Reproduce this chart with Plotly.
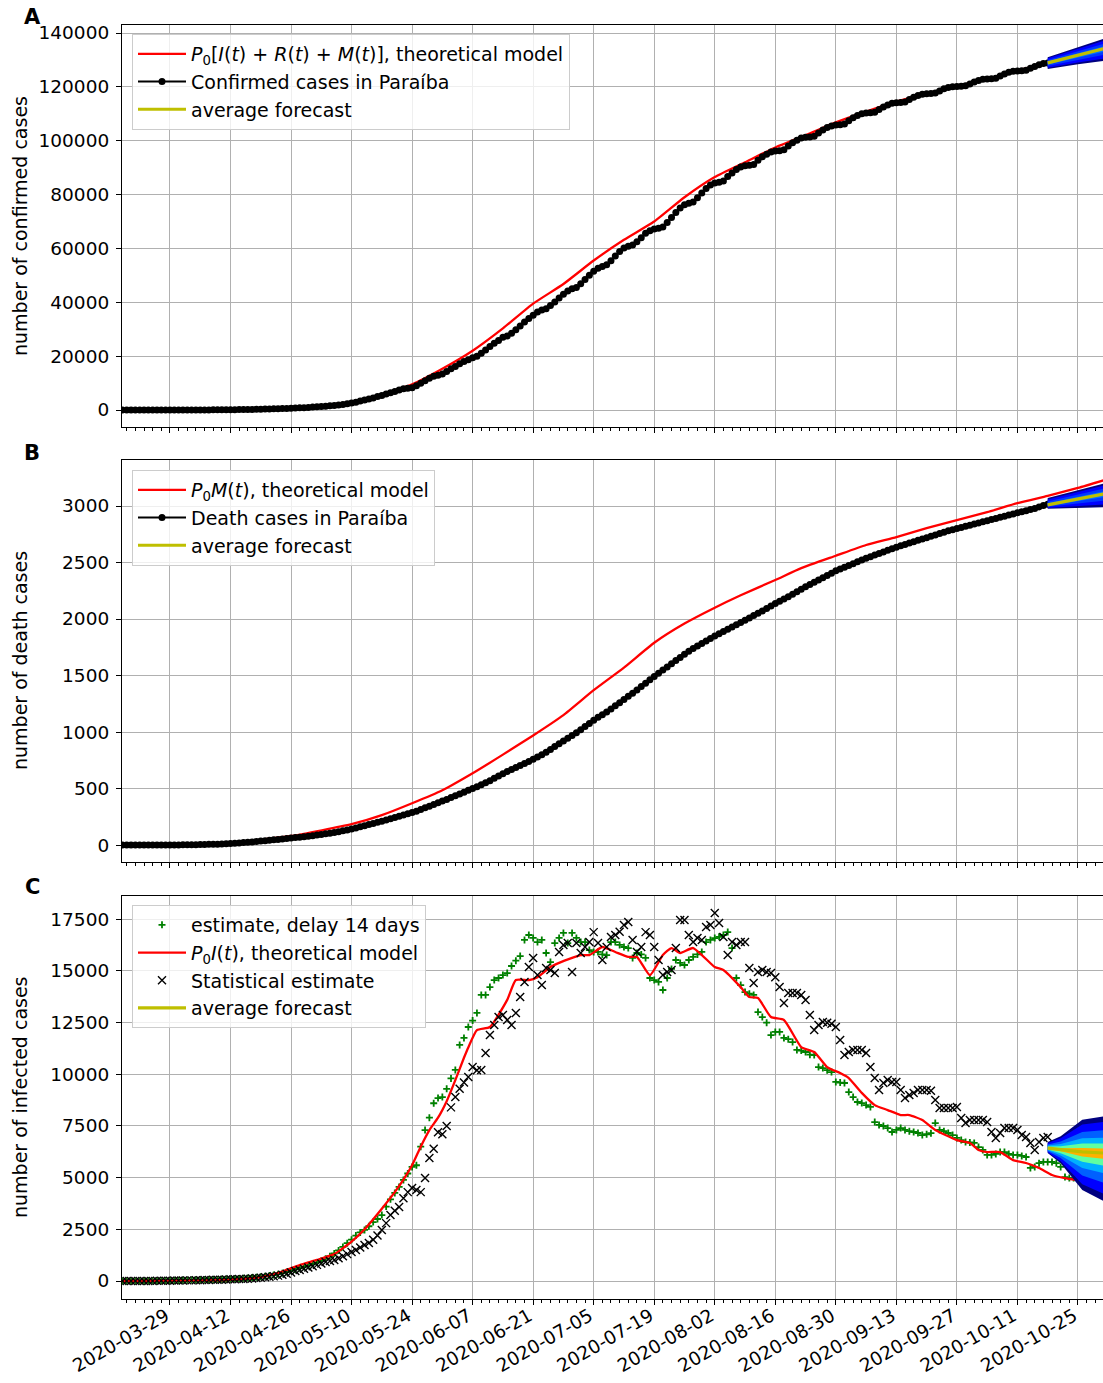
import numpy as np
import pandas as pd
import plotly.graph_objects as go

# ---------------- data ----------------
START = "2020-03-18"   # day 0 of every daily series

# Panel A: cumulative confirmed cases in Paraíba (daily, day 0 .. 214)
confirmed = [
    1, 1, 1, 2, 3, 3, 5,
    6, 7, 9, 10, 12, 14, 14,
    16, 18, 20, 25, 30, 35, 40,
    50, 60, 75, 90, 105, 125, 150,
    175, 200, 230, 260, 300, 340, 380,
    420, 470, 530, 590, 650, 720, 800,
    880, 970, 1070, 1180, 1300, 1430, 1560,
    1700, 1850, 2050, 2300, 2600, 2900, 3300,
    3700, 4100, 4500, 5000, 5400, 5900, 6400,
    6900, 7400, 7900, 8100, 8300, 9000, 9900,
    10900, 11800, 12500, 12900, 13400, 14300, 15300,
    16200, 17200, 18000, 18700, 19400, 20000, 21100,
    22300, 23600, 24800, 25800, 27000, 27500, 28500,
    29800, 31200, 32700, 34000, 35200, 36400, 37100,
    37600, 38800, 40100, 41600, 43000, 44200, 45000,
    45500, 46900, 48500, 50000, 51500, 52600, 53300,
    53900, 55400, 57200, 58900, 60200, 60800, 61300,
    62500, 64000, 65600, 66600, 67200, 67500, 68000,
    69600, 71500, 73300, 75000, 76200, 76800, 77200,
    78800, 80600, 82300, 83600, 84300, 84600, 85000,
    86700, 88000, 89300, 90200, 90700, 90900, 91200,
    92700, 94000, 95000, 95800, 96200, 96300, 96600,
    98000, 99200, 100200, 101000, 101300, 101400, 101700,
    102900, 104000, 104900, 105500, 105800, 105900, 106200,
    107400, 108500, 109400, 110000, 110300, 110400, 110600,
    111600, 112500, 113300, 113900, 114100, 114200, 114400,
    115300, 116100, 116800, 117300, 117400, 117500, 117700,
    118500, 119300, 119800, 120000, 120100, 120200, 120400,
    121100, 121800, 122400, 122800, 122900, 123000, 123200,
    124000, 124800, 125400, 125800, 125900, 126000, 126200,
    126900, 127600, 128200, 128700, 128900,
]

# Panel B: cumulative deaths in Paraíba (daily, day 0 .. 214)
deaths = [
    0, 0, 0, 0, 0, 0, 0,
    0, 0, 1, 1, 1, 1, 1,
    2, 2, 3, 3, 4, 5, 6,
    7, 8, 10, 12, 14, 16, 19,
    22, 25, 28, 31, 35, 38, 42,
    46, 50, 54, 58, 62, 66, 70,
    74, 78, 83, 88, 93, 99, 105,
    111, 118, 126, 134, 142, 151, 161,
    171, 181, 191, 201, 211, 222, 233,
    244, 255, 266, 277, 288, 300, 314,
    329, 344, 359, 374, 389, 404, 420,
    436, 452, 468, 484, 500, 516, 533,
    551, 570, 590, 610, 630, 650, 668,
    686, 704, 722, 740, 760, 780, 800,
    822, 846, 871, 896, 921, 946, 970,
    994, 1020, 1048, 1076, 1104, 1130, 1154,
    1178, 1204, 1232, 1260, 1288, 1316, 1344,
    1372, 1402, 1432, 1462, 1492, 1520, 1548,
    1576, 1604, 1632, 1660, 1688, 1714, 1740,
    1762, 1784, 1806, 1828, 1850, 1870, 1890,
    1910, 1930, 1950, 1970, 1990, 2010, 2030,
    2050, 2072, 2094, 2116, 2138, 2158, 2178,
    2198, 2220, 2242, 2264, 2286, 2306, 2326,
    2346, 2366, 2386, 2406, 2426, 2442, 2458,
    2474, 2490, 2506, 2522, 2538, 2552, 2566,
    2580, 2594, 2608, 2622, 2636, 2648, 2660,
    2672, 2684, 2696, 2708, 2720, 2732, 2744,
    2756, 2768, 2780, 2790, 2800, 2810, 2820,
    2830, 2840, 2850, 2860, 2870, 2880, 2890,
    2900, 2910, 2920, 2930, 2940, 2950, 2958,
    2968, 2978, 2992, 3005, 3015,
]

# Panel C: "estimate, delay 14 days" (daily, day 0 .. 221)
est_delay14 = [
    0, 0, 0, 0, 5, 5, 10, 10, 15, 20,
    20, 25, 30, 30, 35, 40, 45, 50, 55, 60,
    65, 70, 75, 85, 90, 100, 110, 120, 135, 150,
    165, 185, 205, 230, 260, 290, 330, 380, 430, 490,
    560, 620, 690, 760, 830, 900, 980, 1080, 1200, 1330,
    1480, 1650, 1830, 2000, 2200, 2350, 2470, 2650, 2850, 3000,
    3190, 3600, 3950, 4260, 4550, 4890, 5200, 5520, 5600, 6500,
    7300, 7900, 8600, 8850, 8900, 9300, 9800, 10210, 11420, 11760,
    12290, 12600, 12970, 13840, 13840, 14220, 14560, 14660, 14800, 14900,
    15240, 15500, 15720, 16500, 16740, 16600, 16400, 16500, 15870, 15430,
    16350, 16600, 16840, 16350, 16840, 16600, 16400, 16400, 16010, 15920,
    15920, 15800, 15770, 16400, 16400, 16260, 16160, 16110, 15630, 15870,
    15800, 15630, 14660, 14560, 14470, 14080, 14660, 15100, 15530, 15390,
    15290, 15530, 15680, 15800, 15920, 16400, 16500, 16590, 16650, 16740,
    16880, 16110, 14660, 14320, 13980, 13900, 13840, 13010, 12770, 12500,
    11900, 12050, 12050, 11760, 11700, 11560, 11180, 11150, 11080, 10950,
    10930, 10350, 10300, 10200, 10110, 9630, 9600, 9580, 9140, 8900,
    8660, 8610, 8510, 8420, 7690, 7550, 7500, 7400, 7210, 7310,
    7400, 7310, 7250, 7210, 7160, 7060, 7100, 7150, 7640, 7310,
    7250, 7160, 7060, 6920, 6820, 6720, 6700, 6680, 6480, 6340,
    6100, 6100, 6150, 6240, 6240, 6150, 6100, 6100, 6050, 6000,
    5470, 5520, 5700, 5760, 5760, 5760, 5700, 5520, 5030, 4980,
    4980, 4950,
]

# Panel C: "Statistical estimate" (daily, day 0 .. 214)
stat_est = [
    0, 0, 0, 0, 0, 5, 5, 5, 10, 10,
    15, 15, 20, 20, 25, 30, 30, 35, 40, 45,
    50, 55, 60, 65, 70, 80, 85, 95, 100, 110,
    125, 140, 160, 180, 200, 225, 260, 300, 350, 410,
    480, 530, 590, 650, 710, 780, 850, 920, 970, 1020,
    1100, 1200, 1300, 1400, 1500, 1620, 1740, 1840, 2000, 2200,
    2470, 2800, 3190, 3400, 3580, 4000, 4300, 4500, 4400, 4300,
    4980, 5950, 6400, 7200, 7100, 7500, 8400, 8900, 9300, 9600,
    9870, 10350, 10200, 10210, 11030, 11900, 12390, 12770, 12870, 12630,
    12390, 12970, 13740, 14470, 15190, 15630, 14800, 14320, 15140, 15050,
    14900, 15920, 16260, 16350, 14950, 16350, 15870, 16160, 16400, 16880,
    16350, 15530, 16160, 16640, 16740, 16900, 17220, 17370, 16500, 15920,
    16160, 16880, 16740, 16160, 15530, 14800, 14950, 15050, 16110, 17470,
    17470, 16740, 16400, 16590, 16500, 17130, 17220, 17800, 17320, 16640,
    15770, 16400, 16260, 16400, 16400, 15140, 14420, 14950, 15050, 14950,
    14900, 14700, 14220, 13450, 13930, 13930, 13930, 13840, 13600, 12870,
    12140, 12390, 12530, 12500, 12450, 12290, 11660, 10930, 11080, 11180,
    11180, 11180, 11030, 10350, 9820, 9240, 9580, 9720, 9630, 9630,
    9240, 8850, 9000, 9100, 9240, 9240, 9240, 9200, 8760, 8370,
    8370, 8370, 8370, 8420, 7890, 7640, 7790, 7790, 7790, 7790,
    7690, 7210, 6920, 7160, 7400, 7400, 7400, 7310, 7060, 6970,
    6680, 6340, 6720, 6920, 6970,
]

# theoretical model curves (day offset, value)
modelA_days = [0, 25, 39, 46, 53, 60, 67, 74, 81, 88, 95, 102, 109, 116, 123, 130,
               137, 144, 151, 158, 165, 172, 179, 186, 193, 200, 207, 214, 221, 228]
modelA_vals = [0, 150, 800, 1600, 3000, 5600, 9500, 15300, 22000, 30300, 39500, 46800,
               55500, 63200, 70000, 79000, 86500, 92000, 97500, 102000, 106800, 110800,
               114500, 117500, 120200, 123000, 126000, 129000, 131500, 134000]

modelB_days = [0, 25, 39, 53, 60, 67, 74, 81, 88, 95, 102, 109, 116, 123, 130, 137, 143,
               151, 157, 165, 172, 179, 186, 193, 200, 207, 214, 221, 228]
modelB_vals = [0, 20, 80, 185, 265, 370, 485, 635, 800, 970, 1150, 1370, 1570, 1790, 1960,
               2100, 2210, 2345, 2450, 2560, 2655, 2725, 2805, 2875, 2945, 3025, 3090, 3160, 3240]

modelC_days = [0, 20, 25, 32, 36, 41, 45, 49, 53, 56, 60, 63, 65, 67, 69, 71, 73, 75,
               77, 79, 80, 82, 85, 89, 91, 94, 96, 99, 101, 104, 106, 108, 111, 114, 117,
               119, 122, 125, 127, 129, 132, 137, 139, 143, 145, 147, 150, 153, 157, 160,
               163, 166, 168, 171, 174, 177, 180, 182, 185, 188, 193, 196, 198, 200, 203,
               206, 209, 212, 215, 218, 221, 228]
modelC_vals = [0, 30, 60, 190, 390, 770, 1020, 1300, 1900, 2500, 3500, 4300, 4900, 5600,
               6500, 7300, 7900, 8700, 9720, 10800, 11300, 12140, 12290, 13600, 14560,
               14560, 14700, 15190, 15390, 15630, 15770, 15770, 16160, 15920, 15680, 15680,
               14800, 15770, 16110, 15870, 16110, 15190, 15050, 14220, 13740, 13690, 12770,
               12630, 11320, 11080, 10350, 10060, 9820, 9100, 8510, 8270, 8030, 8030, 7790,
               7310, 6820, 6680, 6340, 6240, 6240, 5850, 5710, 5470, 5130, 4980, 4890, 4750]

# forecast fans: day offsets, average forecast, lower and upper envelope
fanA_days = [214, 221, 228]
fanA_mean = [128900, 131700, 134600]
fanA_lo = [126600, 128400, 129800]
fanA_hi = [131000, 134800, 138400]

fanB_days = [214, 221, 228]
fanB_mean = [3010, 3065, 3115]
fanB_lo = [2975, 2985, 2990]
fanB_hi = [3070, 3140, 3210]

fanC_days = [214, 217, 222, 228]
fanC_mean = [6430, 6350, 6250, 6180]
fanC_lo = [6190, 5700, 4400, 3750]
fanC_hi = [6720, 7000, 7800, 8000]

# tick values
yticksA = [0, 20000, 40000, 60000, 80000, 100000, 120000, 140000]
yticksB = [0, 500, 1000, 1500, 2000, 2500, 3000]
yticksC = [0, 2500, 5000, 7500, 10000, 12500, 15000, 17500]

# ---------------- styling ----------------
W, H = 1103, 1383
FONT = "DejaVu Sans"
RED = "#ff0000"
YEL = "#bfbf00"
GRN = "#008000"
FAN_AB = (["#00007f", "#0000ff", "#0038ff", "#0070ff"], [1.0, 0.8, 0.5, 0.25])
FAN_C = (["#00007f", "#0000ff", "#0060ff", "#00b0ff", "#60ffa0", "#ffb000"],
         [1.0, 0.85, 0.62, 0.42, 0.26, 0.12])

start = pd.Timestamp(START)


def to_dates(days):
    return [start + pd.Timedelta(days=float(d)) for d in days]


def daily(n):
    return pd.date_range(start, periods=n, freq="D")


fig = go.Figure()


def add_fan(days, mean, lo, hi, xa, ya, style):
    dts = to_dates(days)
    for col, f in zip(*style):
        up = [m + f * (h - m) for m, h in zip(mean, hi)]
        dn = [m - f * (m - l) for m, l in zip(mean, lo)]
        fig.add_trace(go.Scatter(
            x=dts + dts[::-1], y=up + dn[::-1], mode="lines", fill="toself",
            fillcolor=col, line=dict(width=0), showlegend=False,
            hoverinfo="skip", xaxis=xa, yaxis=ya))


SPL = dict(shape="spline", smoothing=0.5)

# ---- panel A ----
fig.add_trace(go.Scatter(x=to_dates(modelA_days), y=modelA_vals, mode="lines",
                         line=dict(color=RED, width=2.3, **SPL),
                         name="<i>P</i><sub>0</sub>[<i>I</i>(<i>t</i>) + <i>R</i>(<i>t</i>) + <i>M</i>(<i>t</i>)], theoretical model",
                         xaxis="x", yaxis="y", legend="legend"))
fig.add_trace(go.Scatter(x=daily(len(confirmed)), y=confirmed, mode="lines+markers",
                         line=dict(color="black", width=2), marker=dict(color="black", size=7),
                         name="Confirmed cases in Paraíba", xaxis="x", yaxis="y", legend="legend"))
add_fan(fanA_days, fanA_mean, fanA_lo, fanA_hi, "x", "y", FAN_AB)
fig.add_trace(go.Scatter(x=to_dates(fanA_days), y=fanA_mean, mode="lines",
                         line=dict(color=YEL, width=3.2), name="average forecast",
                         xaxis="x", yaxis="y", legend="legend"))

# ---- panel B ----
fig.add_trace(go.Scatter(x=to_dates(modelB_days), y=modelB_vals, mode="lines",
                         line=dict(color=RED, width=2.3, **SPL),
                         name="<i>P</i><sub>0</sub><i>M</i>(<i>t</i>), theoretical model",
                         xaxis="x2", yaxis="y2", legend="legend2"))
fig.add_trace(go.Scatter(x=daily(len(deaths)), y=deaths, mode="lines+markers",
                         line=dict(color="black", width=2), marker=dict(color="black", size=7),
                         name="Death cases in Paraíba", xaxis="x2", yaxis="y2", legend="legend2"))
add_fan(fanB_days, fanB_mean, fanB_lo, fanB_hi, "x2", "y2", FAN_AB)
fig.add_trace(go.Scatter(x=to_dates(fanB_days), y=fanB_mean, mode="lines",
                         line=dict(color=YEL, width=3.2), name="average forecast",
                         xaxis="x2", yaxis="y2", legend="legend2"))

# ---- panel C ----
fig.add_trace(go.Scatter(x=daily(len(est_delay14)), y=est_delay14, mode="markers",
                         marker=dict(symbol="cross-thin", size=5, color=GRN,
                                     line=dict(color=GRN, width=1.8)),
                         name="estimate, delay 14 days", xaxis="x3", yaxis="y3", legend="legend3"))
fig.add_trace(go.Scatter(x=to_dates(modelC_days), y=modelC_vals, mode="lines",
                         line=dict(color=RED, width=2.3, **SPL),
                         name="<i>P</i><sub>0</sub><i>I</i>(<i>t</i>), theoretical model",
                         xaxis="x3", yaxis="y3", legend="legend3"))
fig.add_trace(go.Scatter(x=daily(len(stat_est)), y=stat_est, mode="markers",
                         marker=dict(symbol="x-thin", size=8, color="black",
                                     line=dict(color="black", width=1.4)),
                         name="Statistical estimate", xaxis="x3", yaxis="y3", legend="legend3"))
add_fan(fanC_days, fanC_mean, fanC_lo, fanC_hi, "x3", "y3", FAN_C)
fig.add_trace(go.Scatter(x=to_dates(fanC_days), y=fanC_mean, mode="lines",
                         line=dict(color=YEL, width=3.2), name="average forecast",
                         xaxis="x3", yaxis="y3", legend="legend3"))

# ---------------- layout ----------------
XR = ["2020-03-17 21:50", "2020-10-30 19:00"]
XD = [122.0 / W, 1.0]
DAY_MS = 86400000
TICKFONT = dict(size=18.5, family=FONT, color="black")


def ydom(top, bottom):
    return [1 - bottom / H, 1 - top / H]


def xaxis(anchor, labels):
    d = dict(type="date", range=XR, domain=XD, anchor=anchor,
             tick0="2020-03-29", dtick=14 * DAY_MS, tickformat="%Y-%m-%d",
             showticklabels=labels, tickfont=TICKFONT,
             showgrid=True, gridcolor="#b0b0b0", gridwidth=1.3,
             showline=True, linecolor="black", linewidth=1.2, mirror=True,
             ticks="outside", ticklen=5, tickwidth=1.2, tickcolor="black",
             minor=dict(tick0="2020-03-29", dtick=2 * DAY_MS, ticks="outside",
                        ticklen=3, tickwidth=1, tickcolor="black", showgrid=False),
             zeroline=False, automargin=False)
    if labels:
        d.update(tickangle=-30, ticklabelstandoff=-7, ticklabelshift=-4)
    return d


def yaxis(anchor, rng, dom, ticks):
    return dict(range=rng, domain=dom, anchor=anchor, tickvals=ticks,
                ticktext=[str(t) for t in ticks], tickfont=TICKFONT,
                ticklabelstandoff=3,
                showgrid=True, gridcolor="#b0b0b0", gridwidth=1.3,
                showline=True, linecolor="black", linewidth=1.2, mirror=False,
                ticks="outside", ticklen=5, tickwidth=1.2, tickcolor="black",
                zeroline=False, automargin=False)


def legend(top):
    return dict(x=132 / W, y=1 - top / H, xanchor="left", yanchor="top",
                bgcolor="rgba(255,255,255,0.8)", bordercolor="#cccccc", borderwidth=1,
                itemwidth=48, font=dict(size=19, family=FONT, color="black"))


annotations = []
for txt, xc, yc in [("A", 32, 17), ("B", 32, 453), ("C", 32, 887)]:
    annotations.append(dict(text="<b>%s</b>" % txt, x=xc / W, y=1 - yc / H, xref="paper",
                            yref="paper", showarrow=False, xanchor="center", yanchor="middle",
                            font=dict(size=21, family=FONT, color="black")))
for txt, yc in [("number of confirmed cases", 226), ("number of death cases", 661),
                ("number of infected cases", 1097)]:
    annotations.append(dict(text=txt, x=20 / W, y=1 - yc / H, xref="paper", yref="paper",
                            showarrow=False, textangle=-90, xanchor="center", yanchor="middle",
                            font=dict(size=19, family=FONT, color="black")))

fig.update_layout(
    width=W, height=H, margin=dict(l=0, r=0, t=0, b=0),
    paper_bgcolor="white", plot_bgcolor="white",
    font=dict(family=FONT, size=18, color="black"),
    xaxis=xaxis("y", False), xaxis2=xaxis("y2", False), xaxis3=xaxis("y3", True),
    yaxis=yaxis("x", [-6200, 142970], ydom(25, 426.7), yticksA),
    yaxis2=yaxis("x2", [-150, 3407], ydom(460, 862), yticksB),
    yaxis3=yaxis("x3", [-871, 18642], ydom(895.7, 1299), yticksC),
    legend=legend(34), legend2=legend(470), legend3=legend(905),
    annotations=annotations,
)

fig.write_html("out.html", config={"displayModeBar": False},
               post_script="document.body.style.margin='0';")
